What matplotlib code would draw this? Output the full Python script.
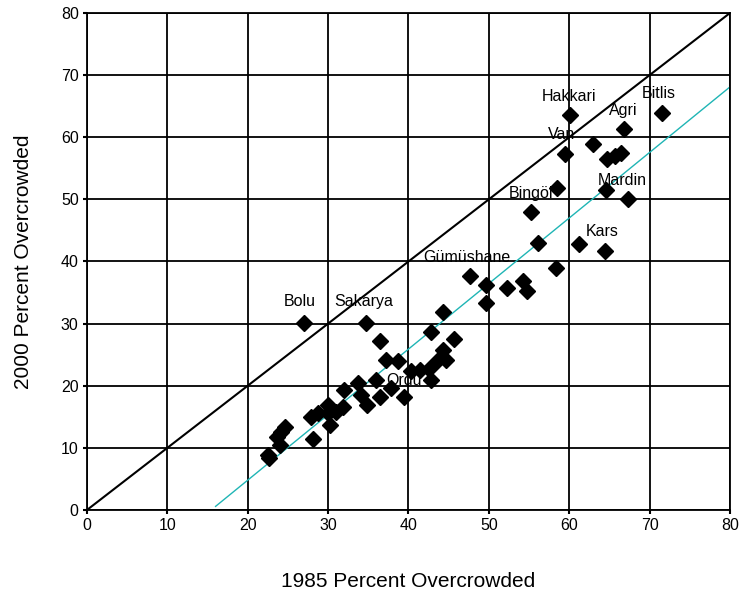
import matplotlib
matplotlib.use("Agg")
import matplotlib.pyplot as plt
import numpy as np

plt.rcParams["font.family"] = ["Liberation Sans", "DejaVu Sans"]

# 1985 vs 2000 percent overcrowded, by province
x_1985 = [27.0, 34.7, 44.3, 42.8, 45.7, 36.4, 44.3, 44.7, 43.6, 37.2,
          38.7, 40.3, 41.4, 42.6, 42.8, 36.0, 33.7, 32.0, 34.1, 34.9,
          36.4, 37.8, 39.5, 31.8, 31.0, 30.0, 30.0, 30.2, 28.7, 27.9,
          28.1, 24.6, 24.2, 23.6, 24.0, 22.5, 22.7, 58.5, 64.6, 67.3,
          55.2, 56.1, 61.2, 64.5, 58.3, 47.7, 49.7, 52.2, 54.2, 54.8,
          49.6, 60.1, 71.5, 66.8, 59.5, 63.0, 64.7, 65.7, 66.4]
y_2000 = [30.1, 30.1, 31.9, 28.7, 27.6, 27.2, 25.8, 24.2, 23.9, 24.2,
          23.9, 22.3, 22.5, 22.7, 20.9, 20.9, 20.4, 19.3, 18.5, 16.9,
          18.2, 19.6, 18.2, 16.6, 15.8, 16.9, 15.6, 13.7, 15.6, 15.0,
          11.5, 13.4, 12.6, 11.8, 10.5, 8.9, 8.4, 51.8, 51.5, 50.1,
          47.9, 43.0, 42.8, 41.7, 38.9, 37.7, 36.2, 35.7, 36.9, 35.3,
          33.3, 63.6, 63.9, 61.3, 57.3, 58.9, 56.5, 56.9, 57.4]

# province labels and where their text sits
labels = ["Hakkari", "Bitlis", "Agri", "Van", "Bingöl", "Mardin", "Kars",
          "Gümüshane", "Bolu", "Sakarya", "Ordu"]
label_x = [60.0, 71.1, 66.7, 59.1, 55.2, 66.6, 64.1, 47.3, 26.5, 34.4, 39.4]
label_y = [66.5, 67.1, 64.3, 60.5, 51.0, 53.0, 44.9, 40.7, 33.5, 33.5, 20.9]

# fitted line y = slope*x + intercept
fit_slope = 1.055
fit_intercept = -16.3
fit_x = [16, 80]

ticks = np.arange(0, 81, 10)

fig = plt.figure(figsize=(7.39, 5.98), dpi=100)
ax = fig.add_axes([0.1177, 0.1472, 0.8701, 0.8311])

ax.set_xlim(0, 80)
ax.set_ylim(0, 80)
ax.set_xticks(ticks)
ax.set_yticks(ticks)
ax.grid(True, color="black", linewidth=1.3)
ax.set_axisbelow(True)
for s in ax.spines.values():
    s.set_color("black")
    s.set_linewidth(1.3)
ax.tick_params(direction="out", length=3, width=1.5, labelsize=11.5, pad=3)

# no-change diagonal and fitted line
ax.plot([0, 80], [0, 80], color="black", linewidth=1.5, zorder=2)
fx = np.array(fit_x, dtype=float)
ax.plot(fx, fit_slope * fx + fit_intercept, color="#1fb5b5", linewidth=1.0, zorder=2)

ax.plot(x_1985, y_2000, linestyle="none", marker="D", markersize=8,
        color="black", zorder=3, clip_on=False)

for name, lx, ly in zip(labels, label_x, label_y):
    ax.text(lx, ly, name, ha="center", va="center", fontsize=11.5, zorder=4)

ax.set_xlabel("1985 Percent Overcrowded", fontsize=15, labelpad=28)
ax.set_ylabel("2000 Percent Overcrowded", fontsize=15, labelpad=20)

fig.savefig("out.png", dpi=100)
